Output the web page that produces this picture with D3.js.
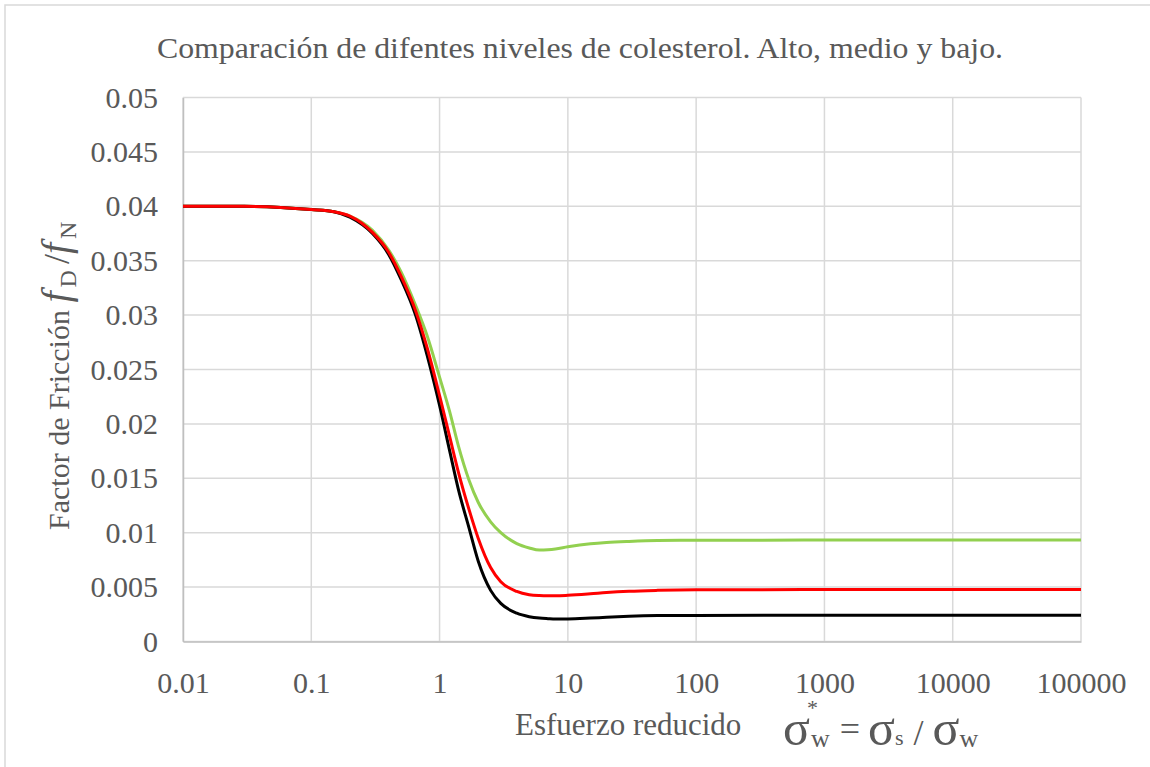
<!DOCTYPE html>
<html>
<head>
<meta charset="utf-8">
<script src="https://cdn.jsdelivr.net/npm/d3@7"></script>
<style>
  body { margin: 0; background: #fff; }
</style>
</head>
<body>
<div id="chart"></div>
<script>
// esfuerzo reducido (eje x, logarítmico)
const sigma = [0.01, 0.03, 0.1, 0.15, 0.2, 0.3, 0.4, 0.5, 0.65, 0.8, 1, 1.2, 1.4, 1.7, 2, 2.5, 3, 4, 5, 6, 7, 8, 10, 15, 20, 30, 50, 100, 1000, 100000]
// factor de fricción por nivel de colesterol
const alto = [0.0400, 0.0400, 0.0397, 0.0395, 0.0391, 0.0378, 0.0360, 0.0340, 0.0309, 0.0281, 0.0243, 0.0211, 0.0180, 0.0148, 0.0128, 0.0110, 0.0100, 0.0090, 0.0086, 0.0084, 0.00843, 0.0085, 0.0087, 0.00898, 0.0091, 0.0092, 0.00928, 0.0093, 0.00932, 0.00932]
const medio = [0.0400, 0.0400, 0.0397, 0.0395, 0.0391, 0.0376, 0.0358, 0.0336, 0.0304, 0.0270, 0.0226, 0.0188, 0.0156, 0.0121, 0.0095, 0.0068, 0.0055, 0.0046, 0.0043, 0.00422, 0.0042, 0.0042, 0.00424, 0.00438, 0.0045, 0.00462, 0.0047, 0.00475, 0.00477, 0.00477]
const bajo = [0.0400, 0.0400, 0.0397, 0.0395, 0.0390, 0.0375, 0.0356, 0.0333, 0.0300, 0.0263, 0.0217, 0.0175, 0.0140, 0.0104, 0.0074, 0.0047, 0.0035, 0.0026, 0.00228, 0.00215, 0.0021, 0.00207, 0.00207, 0.00215, 0.00223, 0.00232, 0.00238, 0.0024, 0.00242, 0.00242]
const xTicks = [0.01, 0.1, 1, 10, 100, 1000, 10000, 100000]
const yTicks = [0, 0.005, 0.01, 0.015, 0.02, 0.025, 0.03, 0.035, 0.04, 0.045, 0.05]
const seriesColors = ['#92d050', '#000000', '#ff0000']

const serif = 'Liberation Serif'
const gris = '#595959'

let width = 1150
let height = 767
let padLeft = 183, padRight = 1081, padTop = 97.5, padBottom = 641.5

let svg = d3.select('#chart').append('svg').attr('width', width).attr('height', height)
  .attr('font-family', serif)

// marco del gráfico
svg.append('rect').attr('x', 5).attr('y', 5).attr('width', width).attr('height', height)
  .attr('fill', '#fff').attr('stroke', '#d9d9d9').attr('stroke-width', 1.5)

let x = d3.scaleLog().domain([0.01, 100000]).range([padLeft, padRight])
let y = d3.scaleLinear().domain([0, 0.05]).range([padBottom, padTop])

// rejilla
svg.append('g').selectAll('line').data(yTicks).join('line')
  .attr('x1', padLeft).attr('x2', padRight).attr('y1', d => y(d)).attr('y2', d => y(d))
  .attr('stroke', '#d9d9d9').attr('stroke-width', 1.5)
svg.append('g').selectAll('line').data(xTicks).join('line')
  .attr('x1', d => x(d)).attr('x2', d => x(d)).attr('y1', padTop).attr('y2', padBottom)
  .attr('stroke', '#d9d9d9').attr('stroke-width', 1.5)

// ejes
let yAxis = d3.axisLeft(y).tickValues(yTicks).tickSize(0).tickPadding(25).tickFormat(d => d === 0 ? '0' : String(+d.toFixed(3)))
let gy = svg.append('g').attr('transform', 'translate(' + padLeft + ',0)').call(yAxis)
gy.attr('font-family', serif).attr('font-size', 30)
gy.select('.domain').attr('stroke', '#bfbfbf').attr('stroke-width', 1.5)
gy.selectAll('text').attr('fill', gris)

let xAxis = d3.axisBottom(x).tickValues(xTicks).tickSize(0).tickPadding(30).tickFormat(d => String(d))
let gx = svg.append('g').attr('transform', 'translate(0,' + padBottom + ')').call(xAxis)
gx.attr('font-family', serif).attr('font-size', 30)
gx.select('.domain').attr('stroke', '#bfbfbf').attr('stroke-width', 1.5)
gx.selectAll('text').attr('fill', gris)

// curvas
let line = d3.line().x(d => x(d[0])).y(d => y(d[1])).curve(d3.curveMonotoneX)
;[alto, bajo, medio].forEach((serie, i) => {
  svg.append('path')
    .datum(sigma.map((s, k) => [s, serie[k]]))
    .attr('fill', 'none')
    .attr('stroke', seriesColors[i])
    .attr('stroke-width', 3)
    .attr('d', line)
})

// título
svg.append('text').attr('x', 157).attr('y', 58).attr('font-size', 29).attr('fill', gris)
  .attr('textLength', 846).attr('lengthAdjust', 'spacingAndGlyphs')
  .text('Comparación de difentes niveles de colesterol. Alto, medio y bajo.')

// título eje y
let ty = svg.append('text').attr('transform', 'translate(69,530) rotate(-90)')
  .attr('font-size', 30).attr('fill', gris)
ty.append('tspan').text('Factor de Fricción ')
ty.append('tspan').attr('font-style', 'italic').attr('font-size', 40).text('f')
ty.append('tspan').attr('font-size', 24).attr('dx', 4).attr('dy', 7).text('D')
ty.append('tspan').attr('dy', -7).attr('dx', 6).attr('font-size', 36).text('/')
ty.append('tspan').attr('font-style', 'italic').attr('font-size', 40).text('f')
ty.append('tspan').attr('font-size', 24).attr('dx', 4).attr('dy', 7).text('N')

// título eje x
svg.append('text').attr('x', 515).attr('y', 735).attr('font-size', 31).attr('fill', gris).text('Esfuerzo reducido')
let tx = svg.append('text').attr('x', 783).attr('y', 745).attr('font-size', 50).attr('fill', gris)
tx.append('tspan').text('σ')
tx.append('tspan').attr('font-size', 22).attr('dx', -3).attr('dy', -30).text('*')
tx.append('tspan').attr('font-size', 26).attr('dx', -7).attr('dy', 32).text('w')
tx.append('tspan').attr('font-size', 36).attr('dx', 10).attr('dy', -6).text('=')
tx.append('tspan').attr('dx', 8).attr('dy', 4).text('σ')
tx.append('tspan').attr('font-size', 22).text('s')
tx.append('tspan').attr('font-size', 36).attr('dx', 10).text('/')
tx.append('tspan').attr('dx', 9).text('σ')
tx.append('tspan').attr('font-size', 26).attr('dy', 2).text('w')
</script>
</body>
</html>
